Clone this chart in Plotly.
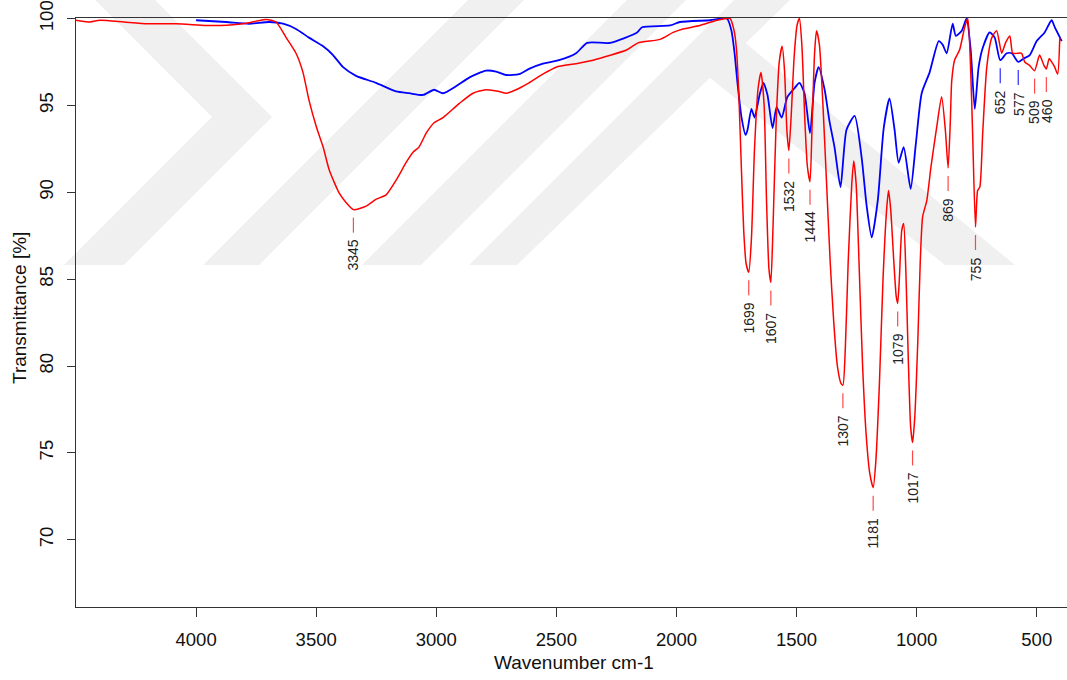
import plotly.graph_objects as go

# ---------------- data ----------------
red_wn = [4500, 4450, 4400, 4300, 4200, 4083, 3958, 3900, 3804, 3750, 3709, 3667, 3625, 3584, 3555, 3530,
          3500, 3471, 3446, 3404, 3375, 3345, 3292, 3250, 3209, 3167, 3126, 3097, 3072, 3042, 3009, 2972,
          2905, 2847, 2793, 2738, 2709, 2668, 2614, 2556, 2501, 2418, 2347, 2206, 2160, 2068, 2014, 1973,
          1902, 1831, 1777, 1760, 1750, 1740, 1730, 1720, 1710, 1699, 1688, 1675, 1660, 1648, 1635, 1625,
          1615, 1607, 1598, 1585, 1572, 1560, 1550, 1540, 1532, 1522, 1510, 1498, 1488, 1478, 1465, 1455,
          1444, 1435, 1425, 1417, 1405, 1390, 1375, 1360, 1345, 1330, 1315, 1307, 1297, 1285, 1270, 1262,
          1252, 1240, 1225, 1210, 1195, 1181, 1170, 1155, 1140, 1125, 1117, 1108, 1095, 1085, 1079, 1072,
          1062, 1054, 1045, 1035, 1025, 1017, 1008, 995, 985, 975, 958, 940, 917, 896, 880, 869, 860,
          854, 842, 821, 800, 787, 775, 767, 755, 746, 737, 725, 708, 687, 667, 646, 630, 612, 600, 580,
          563, 550, 530, 509, 488, 470, 460, 448, 438, 425, 413, 404, 383]
red_t = [99.9, 99.8, 99.9, 99.8, 99.7, 99.7, 99.6, 99.6, 99.7, 99.85, 99.95, 99.8, 98.9, 98.0, 96.9, 95.3,
         93.8, 92.6, 91.3, 89.95, 89.4, 89.0, 89.2, 89.6, 89.85, 90.7, 91.7, 92.3, 92.6, 93.4, 94.0, 94.3,
         95.1, 95.7, 95.9, 95.8, 95.7, 95.9, 96.3, 96.8, 97.2, 97.4, 97.6, 98.2, 98.6, 98.8, 99.2, 99.4,
         99.6, 99.9, 100.0, 99.3, 98.2, 95.5, 91.5, 87.8, 85.9, 85.4, 87.3, 92.5, 96.0, 96.9, 95.0, 89.5,
         85.6, 84.8, 88.0, 94.0, 97.5, 98.4, 97.0, 93.5, 92.4, 94.5, 97.8, 99.6, 100.0, 98.5, 94.0, 91.5,
         90.6, 94.0, 98.0, 99.3, 98.5, 95.0, 90.5, 86.0, 82.5, 80.0, 79.0, 78.9, 81.0, 86.0, 90.5, 91.8,
         90.5, 86.0, 80.0, 76.0, 73.8, 73.0, 74.5, 79.0, 85.0, 89.0, 90.1, 89.0, 86.0, 84.0, 83.6, 85.0,
         87.8, 88.2, 85.5, 80.5, 76.5, 75.6, 77.0, 81.5, 86.0, 88.6, 89.5, 91.5, 93.7, 95.5, 93.5, 91.4, 94.0,
         96.4, 97.6, 98.2, 99.5, 100.0, 97.0, 93.4, 88.0, 90.1, 90.3, 93.4, 97.2, 98.9, 99.3, 98.0, 98.6, 99.0, 98.0, 98.0,
         98.0, 97.5, 97.3, 97.0, 97.9, 97.3, 97.1, 97.7, 97.5, 97.2, 96.8, 98.9]

blue_wn = [4000, 3875, 3779, 3696, 3638, 3584, 3530, 3471, 3430, 3388, 3334, 3251, 3167, 3113, 3055, 3009,
           2972, 2918, 2863, 2793, 2751, 2709, 2655, 2614, 2556, 2489, 2418, 2372, 2276, 2164, 2143, 2027,
           1985, 1860, 1790, 1771, 1758, 1746, 1729, 1712, 1704, 1688, 1675, 1654, 1638, 1621, 1600, 1583,
           1562, 1538, 1508, 1488, 1467, 1444, 1425, 1408, 1383, 1363, 1342, 1317, 1292, 1258, 1229, 1208,
           1187, 1162, 1137, 1113, 1092, 1075, 1054, 1025, 1004, 979, 946, 908, 892, 875, 850, 837, 812,
           792, 775, 758, 742, 725, 696, 675, 652, 625, 604, 577, 554, 529, 500, 467, 438, 425, 396]
blue_t = [99.9, 99.8, 99.7, 99.8, 99.7, 99.4, 98.9, 98.4, 97.9, 97.2, 96.7, 96.3, 95.8, 95.7, 95.6, 95.9,
          95.7, 96.1, 96.6, 97.0, 96.95, 96.75, 96.8, 97.1, 97.4, 97.6, 98.0, 98.6, 98.6, 99.2, 99.5, 99.6,
          99.8, 99.9, 100.0, 99.3, 98.0, 96.3, 94.3, 93.3, 93.6, 94.8, 94.3, 95.6, 96.3, 95.6, 93.7, 94.9,
          94.3, 95.5, 96.0, 96.3, 95.7, 93.4, 96.3, 97.2, 95.9, 94.1, 92.6, 90.3, 93.6, 94.4, 92.0, 89.2,
          87.4, 89.5, 93.7, 95.4, 93.6, 91.7, 92.6, 90.2, 92.7, 95.7, 96.9, 98.7, 98.5, 98.0, 99.7, 99.0, 99.3,
          100.0, 98.2, 94.8, 97.2, 98.3, 99.2, 98.9, 97.6, 98.0, 98.0, 97.5, 97.7, 97.9, 98.7, 99.2, 99.9, 99.5, 98.7]

# peak labels: (wavenumber, transmittance at minimum)
red_peaks = [3345, 1699, 1607, 1532, 1444, 1307, 1181, 1079, 1017, 869, 755, 509, 460]
red_peak_t = [89.0, 85.4, 84.8, 92.4, 90.6, 78.9, 73.0, 83.6, 75.6, 91.4, 88.0, 97.0, 97.1]
blue_peaks = [652, 577]
blue_peak_t = [97.6, 97.5]

x_ticks = [4000, 3500, 3000, 2500, 2000, 1500, 1000, 500]
y_ticks = [70, 75, 80, 85, 90, 95, 100]

# ---------------- figure ----------------
W, H = 1067, 680
ML, MR, MT, MB = 76, 0, 18, 73
PW, PH = W - ML - MR, H - MT - MB
y_range = [66.13, 100.03]
px_per_unit = PH / (y_range[1] - y_range[0])
FONT = "Liberation Sans, Arial, sans-serif"


def to_paper(px, py):
    return (px - ML) / PW, (H - MB - py) / PH


fig = go.Figure()

fig.add_trace(go.Scatter(x=blue_wn, y=blue_t, mode="lines",
                         line=dict(color="#0000FF", width=1.8, shape="spline", smoothing=0.6),
                         hoverinfo="skip", showlegend=False))
fig.add_trace(go.Scatter(x=red_wn, y=red_t, mode="lines",
                         line=dict(color="#FF0000", width=1.5, shape="spline", smoothing=0.6),
                         hoverinfo="skip", showlegend=False))

shapes = []
annotations = []

# faint background watermark (decorative chevron bands), in page pixels
watermark = [
    [(95, 0), (155, 0), (272, 117), (124, 265), (64, 265), (212, 117)],
    [(468, 0), (524, 0), (259, 265), (203, 265)],
    [(627, 0), (686, 0), (421, 265), (362, 265)],
    [(734, 0), (790, 0), (517, 265), (469, 265)],
    [(720, 22), (1015, 265), (945, 265), (690, 62)],
]
for poly in watermark:
    pts = [to_paper(px, py) for px, py in poly]
    path = "M " + " L ".join(f"{x:.4f},{y:.4f}" for x, y in pts) + " Z"
    shapes.append(dict(type="path", xref="paper", yref="paper", path=path,
                       fillcolor="#F0F0F0", line=dict(width=0), layer="below"))


def add_label(wn, t, color):
    shapes.append(dict(type="line", xref="x", yref="y", x0=wn, x1=wn,
                       y0=t - 8 / px_per_unit, y1=t - 23 / px_per_unit,
                       line=dict(color=color, width=1.2)))
    txt = str(wn)
    offset = 30 + len(txt) * 0.556 * 14 / 2
    annotations.append(dict(x=wn, y=t, xref="x", yref="y", text=txt, showarrow=False,
                            textangle=-90, yanchor="middle", xanchor="center", yshift=-offset,
                            font=dict(family=FONT, size=14, color="#222222")))


for wn, t in zip(red_peaks, red_peak_t):
    add_label(wn, t, "rgba(255,40,40,0.85)")
for wn, t in zip(blue_peaks, blue_peak_t):
    add_label(wn, t, "rgba(20,20,255,0.9)")

tx, ty = to_paper(574, 662)
annotations.append(dict(x=tx, y=ty, xref="paper", yref="paper",
                        text="Wavenumber cm-1", showarrow=False, xanchor="center", yanchor="middle",
                        font=dict(family=FONT, size=19, color="#111111")))
tx, ty = to_paper(19, 308)
annotations.append(dict(x=tx, y=ty, xref="paper", yref="paper",
                        text="Transmittance [%]", showarrow=False, textangle=-90, xanchor="center", yanchor="middle",
                        font=dict(family=FONT, size=19, color="#111111")))

fig.update_layout(
    width=W, height=H,
    margin=dict(l=ML, r=MR, t=MT, b=MB),
    paper_bgcolor="white", plot_bgcolor="white",
    shapes=shapes, annotations=annotations,
    showlegend=False,
)
fig.update_xaxes(range=[4500, 374], tickvals=x_ticks, ticktext=[str(v) for v in x_ticks],
                 showgrid=False, zeroline=False, showline=True, linecolor="#333333", linewidth=1.3,
                 mirror=True, ticks="outside", ticklen=9, tickcolor="#333333", tickwidth=1,
                 ticklabelstandoff=7, tickfont=dict(family=FONT, size=18.5, color="#111111"))
fig.update_yaxes(range=y_range, tickvals=y_ticks, ticktext=[str(v) for v in y_ticks],
                 showgrid=False, zeroline=False, showline=True, linecolor="#333333", linewidth=1.3,
                 ticks="outside", ticklen=8, tickcolor="#333333", tickwidth=1, tickangle=-90,
                 ticklabelstandoff=6, tickfont=dict(family=FONT, size=18.5, color="#111111"))

fig.write_html("out.html", config={"displayModeBar": False},
               post_script="document.body.style.margin='0px';document.body.style.overflow='hidden';")
